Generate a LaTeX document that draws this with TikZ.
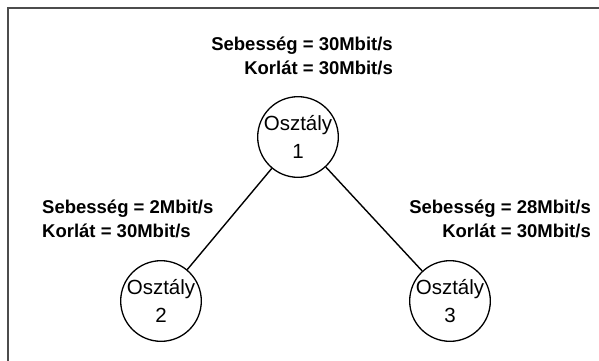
\documentclass[tikz,border=0pt]{standalone}
\usepackage{fontspec}
\setmainfont{Liberation Sans}
\begin{document}
\begin{tikzpicture}[x=1pt,y=-1pt,
  cls/.style={draw=black,line width=1.3pt,circle,minimum size=73pt,inner sep=0pt,
    align=center,font=\fontsize{20.5}{28}\selectfont},
  lbl/.style={font=\bfseries\fontsize{18.5}{24}\selectfont,inner sep=0pt},
  edge/.style={draw=black,line width=1.4pt},
  frame/.style={draw=black!70,line width=1.6pt}]
\useasboundingbox (0,0) rectangle (599,360);
\coordinate (fa) at (8,365);
\coordinate (fb) at (8,8);
\coordinate (fc) at (605,8);
\draw[frame] (fa) -- (fb) -- (fc);
\node[cls] (c1) at (298,137) {Osztály\\1};
\node[cls] (c2) at (161,301) {Osztály\\2};
\node[cls] (c3) at (450,301) {Osztály\\3};
\draw[edge] (c1) -- (c2);
\draw[edge] (c1) -- (c3);
\node[lbl,anchor=base east] (t1) at (393,50) {Sebesség = 30Mbit/s};
\node[lbl,anchor=base east] (t2) at (393,74) {Korlát = 30Mbit/s};
\node[lbl,anchor=base west] (l1) at (42,213) {Sebesség = 2Mbit/s};
\node[lbl,anchor=base west] (l2) at (42,237) {Korlát = 30Mbit/s};
\node[lbl,anchor=base east] (r1) at (591,213) {Sebesség = 28Mbit/s};
\node[lbl,anchor=base east] (r2) at (591,237) {Korlát = 30Mbit/s};
\end{tikzpicture}
\end{document}
